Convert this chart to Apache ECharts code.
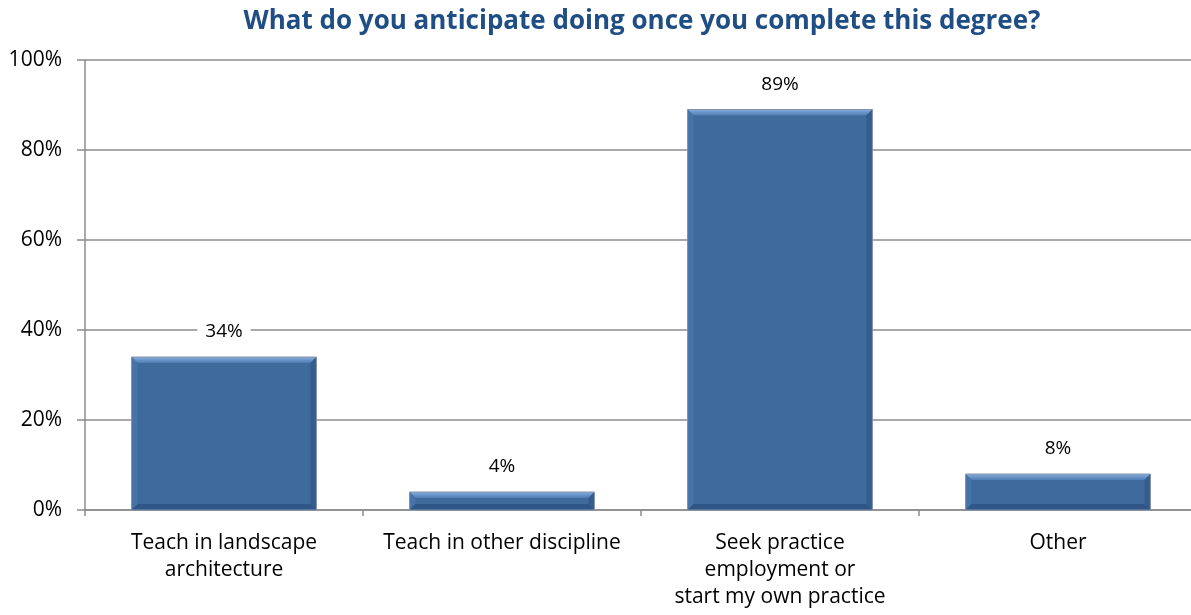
<!DOCTYPE html>
<html>
<head>
<meta charset="utf-8">
<script src="https://cdn.jsdelivr.net/npm/echarts@6/dist/echarts.min.js"></script>
<style>
  html, body { margin: 0; padding: 0; background: #fff; }
  #chart { width: 1191px; height: 615px; }
</style>
</head>
<body>
<div id="chart"></div>
<script>
// Survey answers and their shares (percent of respondents)
const categories = [
  'Teach in landscape\narchitecture',
  'Teach in other discipline',
  'Seek practice\nemployment or\nstart my own practice',
  'Other'
];
const shares = [34, 4, 89, 8];
const yTicks = { min: 0, max: 100, step: 20 };

const FONT = '"Open Sans"';
const chart = echarts.init(document.getElementById('chart'));

// Bevelled column: flat face plus four edge facets and a thin outline
function renderBevelBar(params, api) {
  const idx = api.value(0);
  const val = api.value(1);
  const top = api.coord([idx, val]);
  const base = api.coord([idx, 0]);
  const band = api.size([1, 0])[0];
  const w = band * 0.665;
  const x0 = top[0] - w / 2, x1 = top[0] + w / 2;
  const yT = top[1], yB = base[1];
  const b = Math.min(6, (yB - yT) / 2);
  const poly = (pts, fill) => ({ type: 'polygon', shape: { points: pts }, style: { fill: fill } });
  return {
    type: 'group',
    children: [
      { type: 'rect', shape: { x: x0, y: yT, width: w, height: yB - yT }, style: { fill: '#3E6A9C' } },
      poly([[x0, yT], [x1, yT], [x1 - b, yT + b], [x0 + b, yT + b]],
        new echarts.graphic.LinearGradient(0, 0, 0, 1, [
          { offset: 0, color: '#86ACDB' }, { offset: 1, color: '#4E7CB3' }
        ])),
      poly([[x0, yT], [x0 + b, yT + b], [x0 + b, yB - b], [x0, yB]], '#4674A8'),
      poly([[x1, yT], [x1, yB], [x1 - b, yB - b], [x1 - b, yT + b]], '#345D8E'),
      poly([[x0, yB], [x0 + b, yB - b], [x1 - b, yB - b], [x1, yB]], '#2F5687'),
      { type: 'rect', shape: { x: x0, y: yT, width: w, height: yB - yT },
        style: { fill: 'none', stroke: '#8593A8', lineWidth: 1 } },
      { type: 'text', z2: 10,
        style: {
          text: val + '%', x: top[0], y: yT - 25,
          align: 'center', verticalAlign: 'middle',
          fill: '#000', fontSize: 19, fontFamily: FONT,
          backgroundColor: '#fff', padding: [3, 8]
        } }
    ]
  };
}

chart.setOption({
  animation: false,
  title: {
    text: 'What do you anticipate doing once you complete this degree?',
    left: 637, top: 4, textAlign: 'center',
    textStyle: { color: '#1F4E85', fontSize: 26, fontWeight: 'bold', fontFamily: FONT }
  },
  grid: { left: 85, width: 1112, top: 60, bottom: 105, outerBoundsMode: 'none', containLabel: false },
  xAxis: {
    type: 'category',
    data: categories,
    boundaryGap: true,
    axisLine: { lineStyle: { color: '#8C8C8C', width: 1.5 } },
    axisTick: { show: true, length: 6, lineStyle: { color: '#8C8C8C', width: 1.5 } },
    axisLabel: { color: '#000', fontSize: 21, fontFamily: FONT, lineHeight: 27, margin: 20, interval: 0 }
  },
  yAxis: {
    type: 'value',
    min: yTicks.min, max: yTicks.max, interval: yTicks.step,
    axisLine: { show: true, lineStyle: { color: '#8C8C8C', width: 1.5 } },
    axisTick: { show: true, length: 8, lineStyle: { color: '#8C8C8C', width: 1.5 } },
    splitLine: { lineStyle: { color: '#8C8C8C', width: 1.5 } },
    axisLabel: { color: '#000', fontSize: 21, fontFamily: FONT, margin: 23, formatter: '{value}%' }
  },
  series: [{
    type: 'custom',
    renderItem: renderBevelBar,
    data: shares.map((v, i) => [i, v]),
    encode: { x: 0, y: 1 }
  }]
});
</script>
</body>
</html>
